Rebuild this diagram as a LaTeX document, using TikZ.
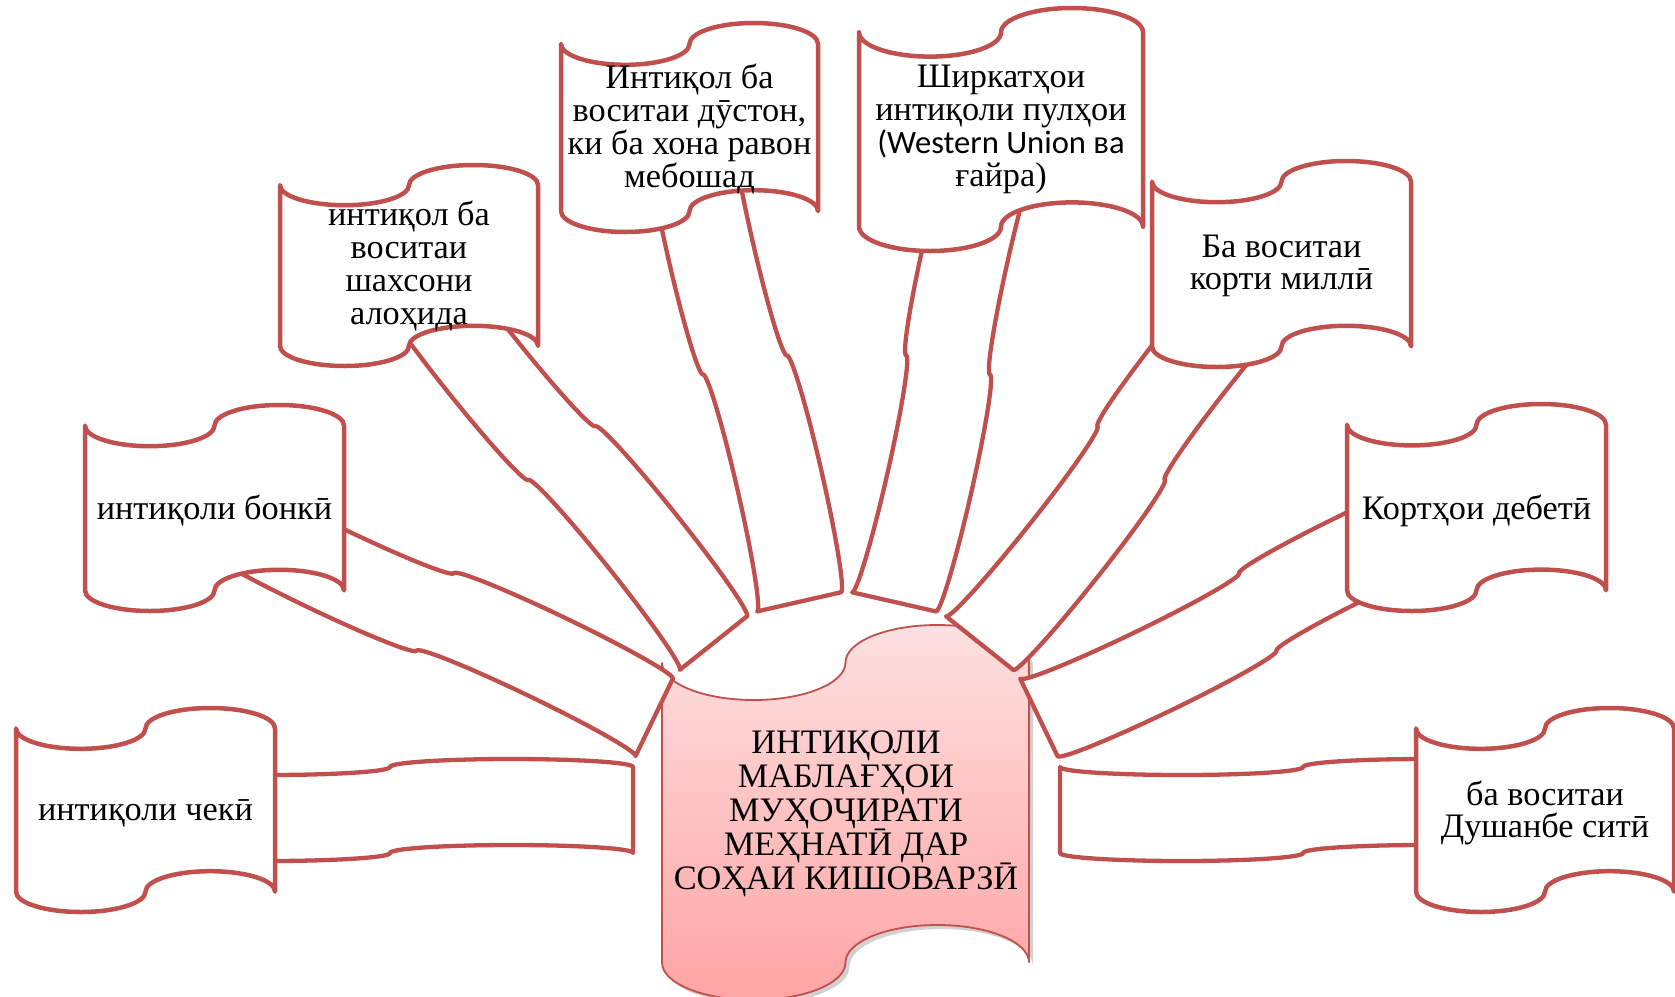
\documentclass[tikz,border=0pt]{standalone}
\usepackage{fontspec}
\setmainfont{Liberation Serif}
\newfontfamily\carl{Carlito}
\definecolor{redline}{HTML}{C0504D}
\definecolor{pinktop}{HTML}{FDE0E0}
\definecolor{pinkbot}{HTML}{FFA4A4}
% half ellipse from (x,y) to (x+2r,y), bulging by b (image y grows downward)
\newcommand\halfell[4]{.. controls ({#1},{#2+0.5523*(#4)}) and ({#1+0.4477*(#3)},{#2+(#4)}) .. ({#1+(#3)},{#2+(#4)}) .. controls ({#1+1.5523*(#3)},{#2+(#4)}) and ({#1+2*(#3)},{#2+0.5523*(#4)}) .. ({#1+2*(#3)},{#2})}
% punched tape shape in box x0,y0,w,h
\newcommand\tapepath[4]{({#1},{#2+0.1*(#4)}) \halfell{#1}{#2+0.1*(#4)}{0.25*(#3)}{0.1*(#4)} \halfell{#1+0.5*(#3)}{#2+0.1*(#4)}{0.25*(#3)}{-0.1*(#4)} -- ({#1+(#3)},{#2+0.9*(#4)}) \halfell{#1+(#3)}{#2+0.9*(#4)}{-0.25*(#3)}{-0.1*(#4)} \halfell{#1+0.5*(#3)}{#2+0.9*(#4)}{-0.25*(#3)}{0.1*(#4)} -- cycle}
\def\bs{243}
\def\bw{43}
\def\ba{8}
\newcommand\bandpath{(0,-\bw) \halfell{0}{-\bw}{0.5*\bs}{\ba} \halfell{\bs}{-\bw}{0.5*\bs}{-\ba} -- ({2*\bs},\bw) \halfell{2*\bs}{\bw}{-0.5*\bs}{-\ba} \halfell{\bs}{\bw}{-0.5*\bs}{\ba} -- cycle}
\begin{document}
\begin{tikzpicture}[x=1pt,y=-1pt,
  tape/.style={draw=redline, line width=4.5pt, fill=white, line join=round},
  band/.style={draw=redline, line width=4.3pt, fill=white, line join=round},
  txt/.style={align=center, font=\fontsize{34.3}{32.8}\selectfont, inner sep=0pt},
  ctxt/.style={align=center, font=\fontsize{34.3}{34}\selectfont, inner sep=0pt}]
\useasboundingbox (0,0) rectangle (1675,996);
% centre shape
\fill[black, opacity=0.18] [shift={(4,4)}] \tapepath{662}{625}{367}{375};
\shade[top color=pinktop, bottom color=pinkbot] \tapepath{662}{625}{367}{375};
\draw[redline, line width=1.8pt] \tapepath{662}{625}{367}{375};
% ribbons
\foreach \k in {0,...,7} {
  \pgfmathsetmacro\ang{180+\k*180/7}
  \begin{scope}[shift={({846.5+213.5*cos(\ang)},{810+213.5*sin(\ang)})}, rotate=-\ang]
    \coordinate (r\k) at (0,0);
    \draw[band] \bandpath;
  \end{scope}
}
% outer shapes
\draw[tape] \tapepath{16}{708}{259}{204};
\draw[tape] \tapepath{85}{405}{259}{206};
\draw[tape] \tapepath{280}{165}{258}{201};
\draw[tape] \tapepath{561}{23}{257}{209};
\draw[tape] \tapepath{859}{8}{284}{243};
\draw[tape] \tapepath{1152}{161}{259}{206};
\draw[tape] \tapepath{1347}{404}{259}{207};
\draw[tape] \tapepath{1416}{708}{258}{204};
% texts
\node[txt] (chek) at (145.5,813) {интиқоли чекӣ};
\node[txt] (bonki) at (214.5,511) {интиқоли бонкӣ};
\node[txt] (shakhs) at (409,266) {интиқол ба\\воситаи\\шахсони\\алоҳида};
\node[txt] (duston) at (689.5,129) {Интиқол ба\\воситаи дӯстон,\\ки ба хона равон\\мебошад};
\node[txt] (shirkat) at (1001,129.5) {Ширкатҳои\\интиқоли пулҳои\\{\fontsize{32.6}{32.8}\carl(Western Union ва}\\ғайра)};
\node[txt] (milli) at (1281.5,266) {Ба воситаи\\корти миллӣ};
\node[txt] (debeti) at (1476.5,510.5) {Кортҳои дебетӣ};
\node[txt] (dushanbe) at (1545,813) {ба воситаи\\Душанбе ситӣ};
\node[ctxt] (center) at (846,814) {ИНТИҚОЛИ\\МАБЛАҒҲОИ\\МУҲОҶИРАТИ\\МЕҲНАТӢ ДАР\\СОҲАИ КИШОВАРЗӢ};
\end{tikzpicture}
\end{document}
